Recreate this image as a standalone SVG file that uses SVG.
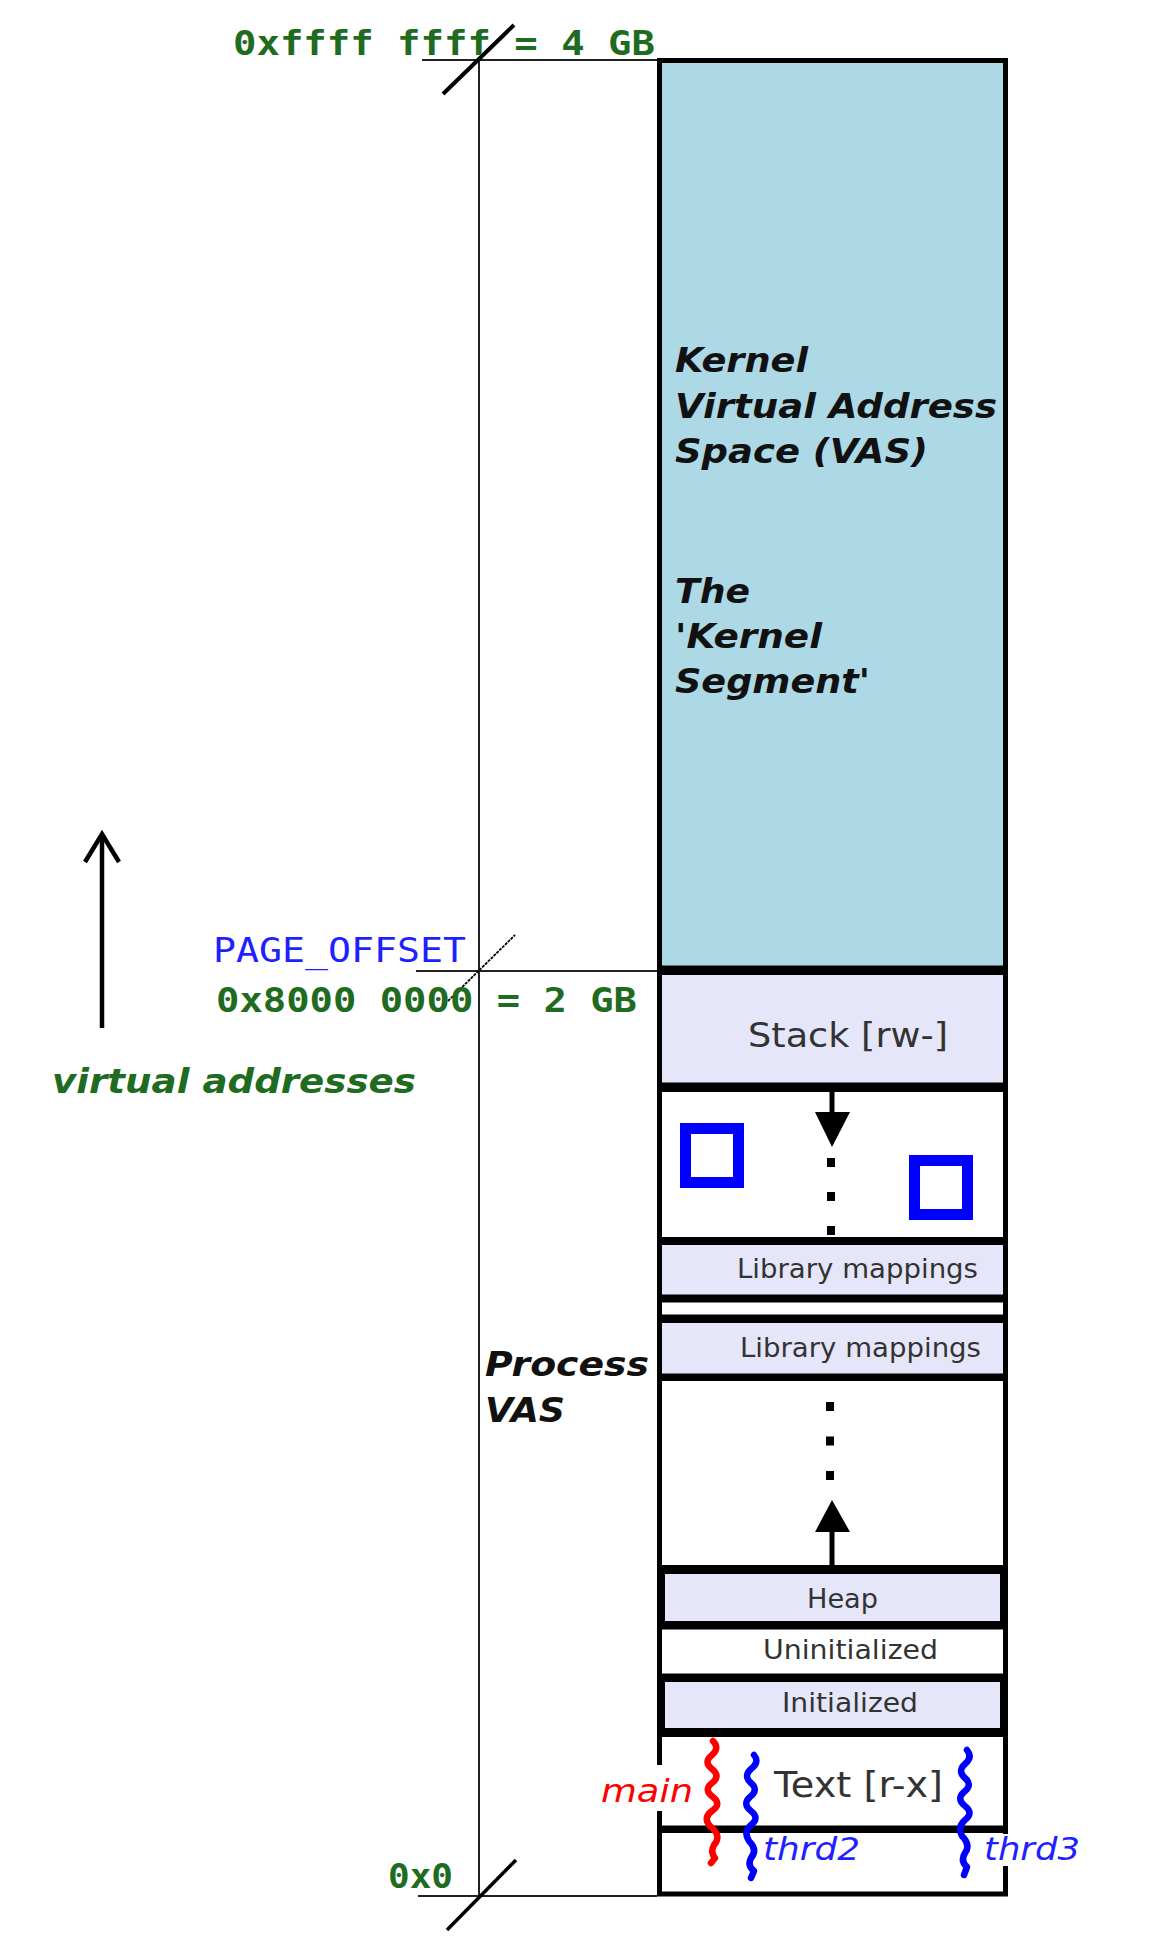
<svg xmlns="http://www.w3.org/2000/svg" width="1152" height="1946" viewBox="0 0 1152 1946">
<defs>
<style>
.seg{stroke:#000;stroke-width:5;fill:#fff}
.lav{fill:#e6e6fa}
.kern{fill:#add8e6}
.inner{stroke:#000;stroke-width:4;fill:#e6e6fa}
.side{stroke:#000;stroke-width:5}
.axis{stroke:#222;stroke-width:2;fill:none}
.mono{font-family:"DejaVu Sans Mono","Liberation Mono",monospace;font-weight:bold;fill:#1f6b1f}
.ktxt{font-family:"DejaVu Sans","Liberation Sans",sans-serif;font-weight:bold;font-style:italic;fill:#111;font-size:33px}
.seglbl{font-family:"DejaVu Sans","Liberation Sans",sans-serif;fill:#333}
.thr{fill:none;stroke-width:6.5;stroke-linejoin:round;stroke-linecap:round}
.thl{font-family:"DejaVu Sans","Liberation Sans",sans-serif;font-style:italic;font-size:32px}
.sq{fill:none;stroke:#0000ff;stroke-width:11}
</style>
</defs>
<rect width="1152" height="1946" fill="#fff"/>

<g id="connectors">
  <line class="axis" x1="479" y1="60" x2="479" y2="1896"/>
  <line class="axis" x1="422" y1="60" x2="657" y2="60"/>
  <line class="axis" x1="416" y1="971" x2="657" y2="971"/>
  <line class="axis" x1="418" y1="1896" x2="657" y2="1896"/>
  <line x1="443" y1="94" x2="514" y2="25" stroke="#000" stroke-width="4"/>
  <line x1="448" y1="1001" x2="515" y2="935" stroke="#000" stroke-width="1.8" stroke-dasharray="3,1"/>
  <line x1="447" y1="1930" x2="516" y2="1860" stroke="#000" stroke-width="3.5"/>
  <line x1="102" y1="1028" x2="102" y2="836" stroke="#000" stroke-width="4.5"/>
  <polyline points="85,862 102,834 119,862" fill="none" stroke="#000" stroke-width="4.5"/>
</g>

<g id="kernel-vas">
  <rect class="seg kern" x="659.5" y="60.5" width="346" height="907.5"/>
  <text class="ktxt" x="675" y="372" textLength="133" lengthAdjust="spacingAndGlyphs">Kernel</text>
  <text class="ktxt" x="675" y="418" textLength="322" lengthAdjust="spacingAndGlyphs">Virtual Address</text>
  <text class="ktxt" x="675" y="463" textLength="253" lengthAdjust="spacingAndGlyphs">Space (VAS)</text>
  <text class="ktxt" x="675" y="603" textLength="75" lengthAdjust="spacingAndGlyphs">The</text>
  <text class="ktxt" x="675" y="648" textLength="147" lengthAdjust="spacingAndGlyphs">'Kernel</text>
  <text class="ktxt" x="675" y="693" textLength="195" lengthAdjust="spacingAndGlyphs">Segment'</text>
</g>

<g id="stack">
  <rect class="seg lav" x="659.5" y="972.5" width="346" height="112.5"/>
  <text class="seglbl" x="748" y="1047" font-size="34" textLength="200" lengthAdjust="spacingAndGlyphs">Stack [rw-]</text>
</g>

<g id="stack-growth">
  <rect class="seg" x="659.5" y="1089.5" width="346" height="150"/>
  <line x1="832" y1="1091" x2="832" y2="1115" stroke="#000" stroke-width="5"/>
  <polygon points="815,1112 850,1112 832,1147" fill="#000"/>
  <line x1="831" y1="1158" x2="831" y2="1240" stroke="#000" stroke-width="8" stroke-dasharray="9,25"/>
  <rect class="sq" x="685.5" y="1128.5" width="53" height="54"/>
  <rect class="sq" x="914.5" y="1160.5" width="53" height="54"/>
</g>

<g id="library-mappings-1">
  <rect class="seg lav" x="659.5" y="1242.5" width="346" height="54.5"/>
  <text class="seglbl" x="737" y="1278" font-size="26" textLength="241" lengthAdjust="spacingAndGlyphs">Library mappings</text>
</g>

<g id="lib-gap">
  <rect class="seg" x="659.5" y="1300" width="346" height="17"/>
</g>

<g id="library-mappings-2">
  <rect class="seg lav" x="659.5" y="1320.5" width="346" height="55.5"/>
  <text class="seglbl" x="740" y="1357" font-size="26" textLength="241" lengthAdjust="spacingAndGlyphs">Library mappings</text>
</g>

<g id="heap-growth">
  <rect class="seg" x="659.5" y="1378.5" width="346" height="189"/>
  <line x1="830" y1="1402" x2="830" y2="1484" stroke="#000" stroke-width="8" stroke-dasharray="9,25.5"/>
  <polygon points="815,1532 850,1532 832,1500" fill="#000"/>
  <line x1="832" y1="1530" x2="832" y2="1568" stroke="#000" stroke-width="5"/>
</g>

<g id="heap">
  <line class="side" x1="659.5" y1="1568" x2="659.5" y2="1628"/>
  <line class="side" x1="1005.5" y1="1568" x2="1005.5" y2="1628"/>
  <rect class="inner" x="663" y="1572" width="339" height="51"/>
  <text class="seglbl" x="807" y="1608" font-size="26" textLength="71" lengthAdjust="spacingAndGlyphs">Heap</text>
</g>

<g id="uninitialized">
  <rect class="seg" x="659.5" y="1627" width="346" height="49"/>
  <text class="seglbl" x="763" y="1659" font-size="26" textLength="175" lengthAdjust="spacingAndGlyphs">Uninitialized</text>
</g>

<g id="initialized">
  <line class="side" x1="659.5" y1="1676" x2="659.5" y2="1734"/>
  <line class="side" x1="1005.5" y1="1676" x2="1005.5" y2="1734"/>
  <rect class="inner" x="663" y="1680" width="339" height="50"/>
  <text class="seglbl" x="782" y="1712" font-size="26" textLength="136" lengthAdjust="spacingAndGlyphs">Initialized</text>
</g>

<g id="text-segment">
  <rect class="seg" x="659.5" y="1734.5" width="346" height="93.5"/>
  <text class="seglbl" x="774" y="1797" font-size="36" fill="#222" textLength="169" lengthAdjust="spacingAndGlyphs">Text [r-x]</text>
</g>

<g id="bottom-segment">
  <rect class="seg" x="659.5" y="1830.5" width="346" height="63.5"/>
</g>

<g id="thread-main">
  <rect x="599" y="1770" width="58" height="40" fill="#fff"/>
  <rect x="655" y="1765" width="8" height="46" fill="#fff"/>
  <text class="thl" x="601" y="1802" fill="#ff0000" textLength="92" lengthAdjust="spacingAndGlyphs">main</text>
  <path class="thr" stroke="#ff0000" d="M713,1741 Q720,1748 712,1755 Q703,1762 712,1769 Q721,1776 712,1783 Q703,1790 713,1797 Q722,1804 712,1811 Q702,1818 711,1827 Q722,1836 714,1845 Q710,1852 715,1858 L711,1863"/>
</g>

<g id="thread-2">
  <path class="thr" stroke="#0000ff" d="M754,1755 Q760,1762 751,1769 Q743,1776 751,1783 Q759,1790 750,1797 Q742,1804 751,1811 Q760,1818 751,1825 Q743,1832 749,1841 Q758,1850 751,1858 Q747,1866 754,1871 L751,1878"/>
  <text class="thl" x="763" y="1860" fill="#1f1fff" textLength="97" lengthAdjust="spacingAndGlyphs">thrd2</text>
</g>

<g id="thread-3">
  <rect x="982" y="1834" width="100" height="32" fill="#fff"/>
  <path class="thr" stroke="#0000ff" d="M967,1750 Q973,1757 965,1764 Q957,1771 965,1778 Q973,1785 964,1792 Q956,1799 965,1806 Q974,1813 965,1820 Q957,1827 962,1836 Q971,1845 965,1853 Q960,1861 967,1867 L964,1875"/>
  <text class="thl" x="984" y="1860" fill="#1f1fff" textLength="96" lengthAdjust="spacingAndGlyphs">thrd3</text>
</g>

<g id="labels">
  <text class="mono" x="233" y="55" font-size="33" textLength="422" lengthAdjust="spacingAndGlyphs">0xffff ffff = 4 GB</text>
  <text x="213" y="962" font-family="DejaVu Sans Mono, Liberation Mono, monospace" font-size="33" fill="#1f1fff" textLength="253" lengthAdjust="spacingAndGlyphs">PAGE_OFFSET</text>
  <text class="mono" x="216" y="1012" font-size="33" textLength="421" lengthAdjust="spacingAndGlyphs">0x8000 0000 = 2 GB</text>
  <text class="mono" x="388" y="1888" font-size="33" textLength="65" lengthAdjust="spacingAndGlyphs">0x0</text>
  <text x="52" y="1093" font-family="DejaVu Sans, Liberation Sans, sans-serif" font-weight="bold" font-style="italic" font-size="33" fill="#1f6b1f" textLength="364" lengthAdjust="spacingAndGlyphs">virtual addresses</text>
  <text class="ktxt" x="485" y="1376" textLength="164" lengthAdjust="spacingAndGlyphs">Process</text>
  <text class="ktxt" x="485" y="1422" textLength="80" lengthAdjust="spacingAndGlyphs">VAS</text>
</g>
</svg>
